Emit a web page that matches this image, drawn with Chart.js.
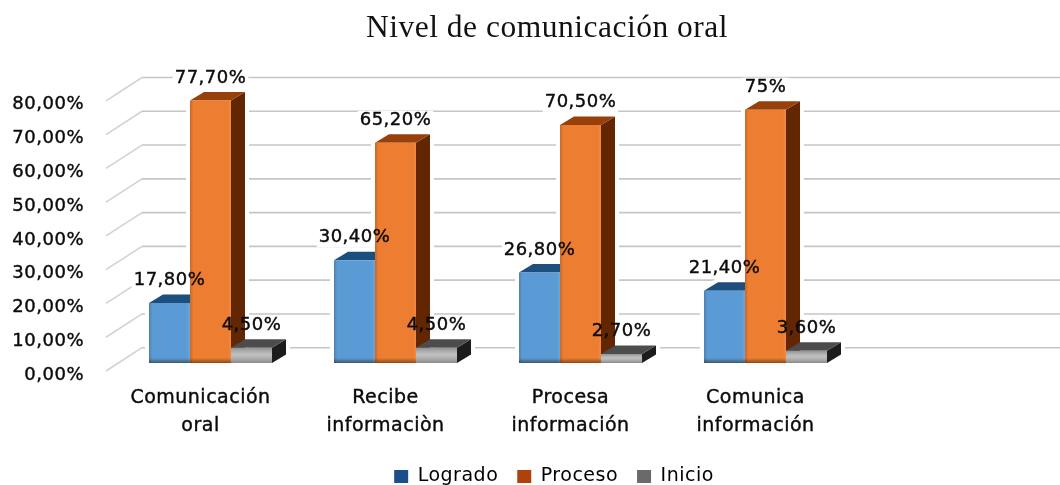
<!DOCTYPE html>
<html lang="es">
<head>
<meta charset="utf-8">
<style>
html,body{margin:0;padding:0;background:#fff;overflow:hidden}
#wrap{width:1060px;height:485px;position:relative}
canvas{filter:blur(0.5px)}
</style>
<script src="https://cdn.jsdelivr.net/npm/chart.js@4/dist/chart.umd.min.js"></script>
</head>
<body>
<div id="wrap"><canvas id="c" width="1060" height="485"></canvas></div>
<script>
const categories = [["Comunicación","oral"],["Recibe","informaciòn"],["Procesa","información"],["Comunica","información"]];
const seriesNames = ["Logrado","Proceso","Inicio"];
const logrado = [17.8,30.4,26.8,21.4];
const proceso = [77.7,65.2,70.5,75];
const inicio = [4.5,4.5,2.7,3.6];
const titleText = "Nivel de comunicación oral";
const frontColors = ["#5b9bd5","#ed7d31","#b0b0b0"];
const legendColors = ["#1b4f8a","#b0400c","#6a6a6a"];
const topColors = ["#1d4f7e","#97400a","#4c4c4c"];
const sideColors = ["#153a5c","#622602","#1c1c1c"];
const DX=14, DY=8.5, BACK_X=24, BACK_Y=-15.3, SIDE_X0=-12, SIDE_Y0=8;
const fmtTick = v => v.toFixed(2).replace('.',',')+'%';
const fmtLabel = v => Number.isInteger(v) ? v+'%' : v.toFixed(2).replace('.',',')+'%';
const LS='0.5px';

const threeD = {
  id:'threeD',
  beforeLayout(ch){ ch.ctx.letterSpacing=LS; },
  beforeDraw(ch){ ch.ctx.letterSpacing=LS; },
  afterLayout(ch){
    ch.titleBlock.left=34; ch.titleBlock.right=1060;
    const lg=ch.legend; lg.left=48; lg.right=1060; lg.top+=11; lg.bottom+=11;
  },
  beforeDatasetsDraw(ch){
    const c=ch.ctx, y=ch.scales.y, a=ch.chartArea;
    c.save();
    y.ticks.forEach(t=>{
      const py=y.getPixelForValue(t.value);
      c.lineWidth=1.6;
      c.strokeStyle='#d2d2d2';
      c.beginPath();
      c.moveTo(a.left+SIDE_X0,py+SIDE_Y0);
      c.lineTo(a.left+BACK_X,py+BACK_Y);
      c.stroke();
      c.strokeStyle='#c6c6c6';
      c.beginPath();
      c.moveTo(a.left+BACK_X,py+BACK_Y);
      c.lineTo(ch.width,py+BACK_Y);
      c.stroke();
    });
    c.font='18px "DejaVu Sans"';
    c.fillStyle='#fff';
    ch.data.datasets.forEach((d,i)=>{
      ch.getDatasetMeta(i).data.forEach((b,j)=>{
        const w=c.measureText(fmtLabel(d.data[j])).width;
        c.fillRect(b.x-w/2-2,b.y-32,w+4,19);
      });
    });
    ch.data.datasets.forEach((d,i)=>{
      ch.getDatasetMeta(i).data.forEach(b=>{
        const l=b.x-b.width/2,r=b.x+b.width/2;
        c.beginPath();
        c.moveTo(l,b.base);c.lineTo(l,b.y);c.lineTo(l+DX,b.y-DY);c.lineTo(r+DX,b.y-DY);c.lineTo(r+DX,b.base-DY);c.lineTo(r,b.base);c.closePath();
        c.strokeStyle='#fff';c.lineWidth=8;c.lineJoin='round';c.stroke();
      });
    });
    ch.data.datasets.forEach((d,i)=>{
      ch.getDatasetMeta(i).data.forEach(b=>{
        const l=b.x-b.width/2,r=b.x+b.width/2;
        c.fillStyle=sideColors[i];
        c.beginPath();c.moveTo(r,b.y);c.lineTo(r+DX,b.y-DY);c.lineTo(r+DX,b.base-DY);c.lineTo(r,b.base);c.closePath();c.fill();
        c.fillStyle=topColors[i];
        c.beginPath();c.moveTo(l,b.y);c.lineTo(l+DX,b.y-DY);c.lineTo(r+DX,b.y-DY);c.lineTo(r,b.y);c.closePath();c.fill();
      });
    });
    c.restore();
  },
  afterDatasetsDraw(ch){
    const c=ch.ctx;
    c.save();
    ch.data.datasets.forEach((d,i)=>{
      ch.getDatasetMeta(i).data.forEach((b,j)=>{
        const l=b.x-b.width/2,w=b.width,h=b.base-b.y;
        if(i===2){
          const g=c.createLinearGradient(0,b.y,0,b.base);
          g.addColorStop(0,'rgba(70,70,70,.3)');g.addColorStop(.45,'rgba(255,255,255,.2)');g.addColorStop(1,'rgba(60,60,60,.35)');
          c.fillStyle=g;c.fillRect(l,b.y,w,h);
        }else{
          const g=c.createLinearGradient(l,0,l+w,0);
          g.addColorStop(0,'rgba(60,30,0,.2)');g.addColorStop(.08,'rgba(0,0,0,0)');g.addColorStop(.92,'rgba(255,255,255,0)');g.addColorStop(1,'rgba(255,255,255,.1)');
          c.fillStyle=g;c.fillRect(l,b.y,w,h);
          const g2=c.createLinearGradient(0,b.base-5,0,b.base);
          g2.addColorStop(0,'rgba(40,20,0,0)');g2.addColorStop(1,'rgba(40,20,0,.5)');
          c.fillStyle=g2;c.fillRect(l,b.base-5,w,5);
        }
      });
    });
    c.font='18px "DejaVu Sans"';
    c.textAlign='center';c.textBaseline='middle';c.fillStyle='#0a0a0a';c.strokeStyle='#0a0a0a';c.lineWidth=0.4;
    ch.data.datasets.forEach((d,i)=>{
      ch.getDatasetMeta(i).data.forEach((b,j)=>{
        c.strokeText(fmtLabel(d.data[j]),b.x,b.y-22.5);
        c.fillText(fmtLabel(d.data[j]),b.x,b.y-22.5);
      });
    });
    c.restore();
  }
};

new Chart(document.getElementById('c'),{
  type:'bar',
  data:{
    labels:categories,
    datasets:[
      {label:seriesNames[0],data:logrado,backgroundColor:frontColors[0]},
      {label:seriesNames[1],data:proceso,backgroundColor:frontColors[1]},
      {label:seriesNames[2],data:inicio,backgroundColor:frontColors[2]}
    ]
  },
  plugins:[threeD],
  options:{
    responsive:false,
    animation:false,
    devicePixelRatio:1,
    categoryPercentage:.665,
    barPercentage:1,
    layout:{padding:{left:0,right:202,top:0,bottom:0}},
    plugins:{
      tooltip:{enabled:false},
      title:{display:true,text:titleText,color:'#111',font:{family:'"Liberation Serif"',size:31.5,weight:'normal'},padding:{top:10,bottom:45}},
      legend:{
        display:true,position:'bottom',
        labels:{
          color:'#0a0a0a',font:{family:'"DejaVu Sans"',size:19},
          boxWidth:14,boxHeight:13,padding:19,
          generateLabels:ch=>ch.data.datasets.map((d,i)=>({text:d.label,fillStyle:legendColors[i],strokeStyle:legendColors[i],lineWidth:0,datasetIndex:i}))
        }
      }
    },
    scales:{
      x:{
        grid:{display:false},border:{display:false},
        afterFit:s=>{s.height=74;},
        ticks:{color:'#0a0a0a',textStrokeColor:'#0a0a0a',textStrokeWidth:0.4,font:{family:'"DejaVu Sans"',size:19,lineHeight:1.47},padding:13,labelOffset:-10,maxRotation:0,autoSkip:false}
      },
      y:{
        min:0,max:80,
        grid:{display:false},border:{display:false},
        afterFit:s=>{s.width=118;},
        ticks:{stepSize:10,color:'#0a0a0a',textStrokeColor:'#0a0a0a',textStrokeWidth:0.4,font:{family:'"DejaVu Sans"',size:18},padding:26,labelOffset:12,callback:fmtTick}
      }
    }
  }
});
</script>
</body>
</html>
